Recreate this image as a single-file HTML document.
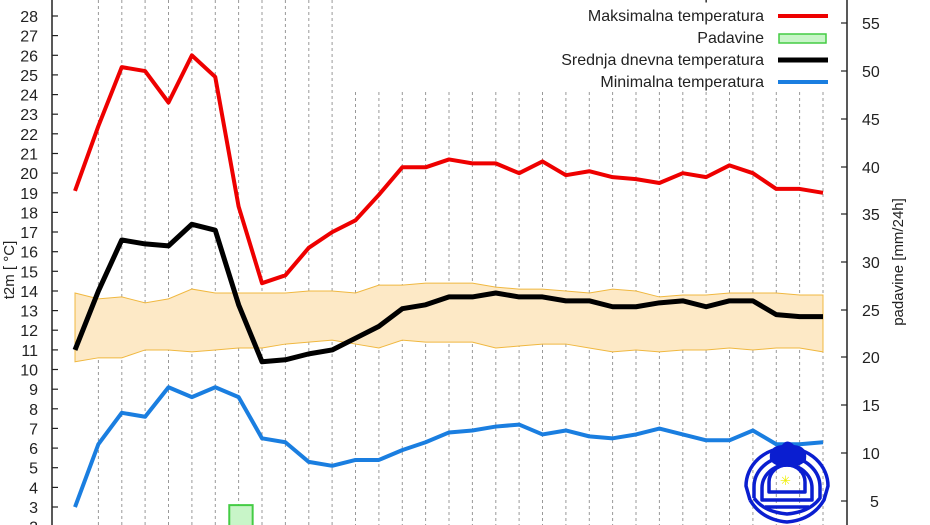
<!DOCTYPE html>
<html><head><meta charset="utf-8"><style>
html,body{margin:0;padding:0;background:#fff;width:930px;height:525px;overflow:hidden}
text{font-family:"Liberation Sans",sans-serif;font-size:16px;fill:#222}
</style></head><body>
<svg width="930" height="525" viewBox="0 0 930 525" xmlns="http://www.w3.org/2000/svg">
<g stroke="#999" stroke-width="1" stroke-dasharray="3,3">
<line x1="98.4" y1="0" x2="98.4" y2="525"/><line x1="121.8" y1="0" x2="121.8" y2="525"/><line x1="145.1" y1="0" x2="145.1" y2="525"/><line x1="168.5" y1="0" x2="168.5" y2="525"/><line x1="191.9" y1="0" x2="191.9" y2="525"/><line x1="215.3" y1="0" x2="215.3" y2="525"/><line x1="238.6" y1="0" x2="238.6" y2="525"/><line x1="262" y1="0" x2="262" y2="525"/><line x1="285.4" y1="0" x2="285.4" y2="525"/><line x1="308.8" y1="0" x2="308.8" y2="525"/><line x1="332.1" y1="0" x2="332.1" y2="525"/>
<line x1="355.5" y1="92" x2="355.5" y2="525"/><line x1="378.9" y1="92" x2="378.9" y2="525"/><line x1="402.3" y1="92" x2="402.3" y2="525"/><line x1="425.6" y1="92" x2="425.6" y2="525"/><line x1="449" y1="92" x2="449" y2="525"/><line x1="472.4" y1="92" x2="472.4" y2="525"/><line x1="495.8" y1="92" x2="495.8" y2="525"/><line x1="519.1" y1="92" x2="519.1" y2="525"/><line x1="542.5" y1="92" x2="542.5" y2="525"/><line x1="565.9" y1="92" x2="565.9" y2="525"/><line x1="589.3" y1="92" x2="589.3" y2="525"/><line x1="612.6" y1="92" x2="612.6" y2="525"/><line x1="636" y1="92" x2="636" y2="525"/><line x1="659.4" y1="92" x2="659.4" y2="525"/><line x1="682.8" y1="92" x2="682.8" y2="525"/><line x1="706.1" y1="92" x2="706.1" y2="525"/><line x1="729.5" y1="92" x2="729.5" y2="525"/><line x1="752.9" y1="92" x2="752.9" y2="525"/><line x1="776.3" y1="92" x2="776.3" y2="525"/><line x1="799.6" y1="92" x2="799.6" y2="525"/><line x1="823" y1="92" x2="823" y2="525"/>
</g>
<g transform="translate(75,566) scale(23.375,-19.64)">
<polygon fill="#fde9c6" stroke="#f0b840" stroke-width="1" vector-effect="non-scaling-stroke" points="0,13.9 1,13.6 2,13.7 3,13.4 4,13.6 5,14.1 6,13.9 7,13.9 8,13.9 9,13.9 10,14 11,14 12,13.9 13,14.3 14,14.3 15,14.4 16,14.4 17,14.4 18,14.2 19,14.1 20,14.1 21,14 22,13.9 23,14.1 24,14 25,13.7 26,13.8 27,13.8 28,13.9 29,13.9 30,13.9 31,13.8 32,13.8 32,10.9 31,11.1 30,11.1 29,11 28,11.1 27,11 26,11 25,10.9 24,11 23,10.9 22,11.1 21,11.3 20,11.3 19,11.2 18,11.1 17,11.4 16,11.4 15,11.4 14,11.5 13,11.1 12,11.3 11,11.5 10,11.4 9,11.3 8,11.1 7,11.1 6,11 5,10.9 4,11 3,11 2,10.6 1,10.6 0,10.4"/>
<rect x="6.6" y="1.8" width="1" height="1.3" fill="#c8f5c8" stroke="#4c4" stroke-width="2" vector-effect="non-scaling-stroke"/>
<polyline fill="none" stroke="#e00" stroke-width="4" stroke-linejoin="round" vector-effect="non-scaling-stroke" points="0,19.1 1,22.4 2,25.4 3,25.2 4,23.6 5,26 6,24.9 7,18.3 8,14.4 9,14.8 10,16.2 11,17 12,17.6 13,18.9 14,20.3 15,20.3 16,20.7 17,20.5 18,20.5 19,20 20,20.6 21,19.9 22,20.1 23,19.8 24,19.7 25,19.5 26,20 27,19.8 28,20.4 29,20 30,19.2 31,19.2 32,19"/>
<polyline fill="none" stroke="#000" stroke-width="5" stroke-linejoin="round" vector-effect="non-scaling-stroke" points="0,11 1,14 2,16.6 3,16.4 4,16.3 5,17.4 6,17.1 7,13.3 8,10.4 9,10.5 10,10.8 11,11 12,11.6 13,12.2 14,13.1 15,13.3 16,13.7 17,13.7 18,13.9 19,13.7 20,13.7 21,13.5 22,13.5 23,13.2 24,13.2 25,13.4 26,13.5 27,13.2 28,13.5 29,13.5 30,12.8 31,12.7 32,12.7"/>
<polyline fill="none" stroke="#1a7ee0" stroke-width="4" stroke-linejoin="round" vector-effect="non-scaling-stroke" points="0,3 1,6.2 2,7.8 3,7.6 4,9.1 5,8.6 6,9.1 7,8.6 8,6.5 9,6.3 10,5.3 11,5.1 12,5.4 13,5.4 14,5.9 15,6.3 16,6.8 17,6.9 18,7.1 19,7.2 20,6.7 21,6.9 22,6.6 23,6.5 24,6.7 25,7 26,6.7 27,6.4 28,6.4 29,6.9 30,6.2 31,6.2 32,6.3"/>
</g>
<!-- logo -->
<g fill="none" stroke="#0a1ed0" stroke-width="3.5" stroke-linejoin="round">
<path d="M750,500 L746,486 A41,38 0 0 1 828,486 L824,500 Q812,520 787,522 Q762,520 750,500"/>
<path d="M754,498 L754,487 A33,30 0 0 1 820,487 L820,498 Q810,512 787,514 Q764,512 754,498"/>
<path d="M762,500 L762,488 A25,23 0 0 1 812,488 L812,500 Z"/>
<path d="M769,492 L769,482 A18,17 0 0 1 805,482 L805,492 Z"/>
<line x1="765" y1="507" x2="809" y2="507"/>
</g>
<path d="M770,460 Q768,446 782,445 Q787,438 794,445 Q808,446 806,460 Q800,468 788,466 Q776,468 770,460 Z" fill="#0a1ed0"/>
<text x="780" y="485" style="fill:#ee0;font-size:13px">✳</text>
<!-- axes -->
<line x1="52" y1="0" x2="52" y2="525" stroke="#222" stroke-width="1.5"/>
<line x1="847" y1="0" x2="847" y2="525" stroke="#222" stroke-width="1.5"/>
<g stroke="#222" stroke-width="1.2">
<line x1="52" y1="16" x2="58" y2="16"/><line x1="52" y1="35.6" x2="58" y2="35.6"/><line x1="52" y1="55.3" x2="58" y2="55.3"/><line x1="52" y1="74.9" x2="58" y2="74.9"/><line x1="52" y1="94.6" x2="58" y2="94.6"/><line x1="52" y1="114.2" x2="58" y2="114.2"/><line x1="52" y1="133.8" x2="58" y2="133.8"/><line x1="52" y1="153.5" x2="58" y2="153.5"/><line x1="52" y1="173.1" x2="58" y2="173.1"/><line x1="52" y1="192.8" x2="58" y2="192.8"/><line x1="52" y1="212.4" x2="58" y2="212.4"/><line x1="52" y1="232" x2="58" y2="232"/><line x1="52" y1="251.7" x2="58" y2="251.7"/><line x1="52" y1="271.3" x2="58" y2="271.3"/><line x1="52" y1="291" x2="58" y2="291"/><line x1="52" y1="310.6" x2="58" y2="310.6"/><line x1="52" y1="330.2" x2="58" y2="330.2"/><line x1="52" y1="349.9" x2="58" y2="349.9"/><line x1="52" y1="369.5" x2="58" y2="369.5"/><line x1="52" y1="389.2" x2="58" y2="389.2"/><line x1="52" y1="408.8" x2="58" y2="408.8"/><line x1="52" y1="428.4" x2="58" y2="428.4"/><line x1="52" y1="448.1" x2="58" y2="448.1"/><line x1="52" y1="467.7" x2="58" y2="467.7"/><line x1="52" y1="487.4" x2="58" y2="487.4"/><line x1="52" y1="507" x2="58" y2="507"/>
<line x1="841" y1="23" x2="847" y2="23"/><line x1="841" y1="71" x2="847" y2="71"/><line x1="841" y1="119" x2="847" y2="119"/><line x1="841" y1="167" x2="847" y2="167"/><line x1="841" y1="214" x2="847" y2="214"/><line x1="841" y1="262" x2="847" y2="262"/><line x1="841" y1="310" x2="847" y2="310"/><line x1="841" y1="357" x2="847" y2="357"/><line x1="841" y1="405" x2="847" y2="405"/><line x1="841" y1="453" x2="847" y2="453"/><line x1="841" y1="501" x2="847" y2="501"/>
</g>
<g text-anchor="end">
<text x="38" y="22">28</text><text x="38" y="41.6">27</text><text x="38" y="61.3">26</text><text x="38" y="80.9">25</text><text x="38" y="100.6">24</text><text x="38" y="120.2">23</text><text x="38" y="139.8">22</text><text x="38" y="159.5">21</text><text x="38" y="179.1">20</text><text x="38" y="198.8">19</text><text x="38" y="218.4">18</text><text x="38" y="238">17</text><text x="38" y="257.7">16</text><text x="38" y="277.3">15</text><text x="38" y="297">14</text><text x="38" y="316.6">13</text><text x="38" y="336.2">12</text><text x="38" y="355.9">11</text><text x="38" y="375.5">10</text><text x="38" y="395.2">9</text><text x="38" y="414.8">8</text><text x="38" y="434.4">7</text><text x="38" y="454.1">6</text><text x="38" y="473.7">5</text><text x="38" y="493.4">4</text><text x="38" y="513">3</text><text x="38" y="532.6">2</text>
</g>
<g>
<text x="862" y="29">55</text><text x="862" y="77">50</text><text x="862" y="125">45</text><text x="862" y="173">40</text><text x="862" y="220">35</text><text x="862" y="268">30</text><text x="862" y="316">25</text><text x="862" y="363">20</text><text x="862" y="411">15</text><text x="862" y="459">10</text><text x="870" y="507">5</text>
</g>
<text transform="translate(14,270) rotate(-90)" text-anchor="middle" style="font-size:15px">t2m [ °C]</text>
<text transform="translate(903,262) rotate(-90)" text-anchor="middle" style="font-size:15px">padavine [mm/24h]</text>
<!-- legend -->
<g text-anchor="end" style="font-size:16px">
<text x="764" y="-1">Normalna dnevna temperatura</text>
<text x="764" y="21">Maksimalna temperatura</text>
<text x="764" y="43">Padavine</text>
<text x="764" y="65">Srednja dnevna temperatura</text>
<text x="764" y="87">Minimalna temperatura</text>
</g>
<line x1="778" y1="16" x2="828" y2="16" stroke="#e00" stroke-width="4"/>
<rect x="779" y="34" width="47" height="9" fill="#c8f5c8" stroke="#4c4" stroke-width="1.5"/>
<line x1="778" y1="60" x2="828" y2="60" stroke="#000" stroke-width="5"/>
<line x1="778" y1="82" x2="828" y2="82" stroke="#1a7ee0" stroke-width="4"/>
</svg>
</body></html>
